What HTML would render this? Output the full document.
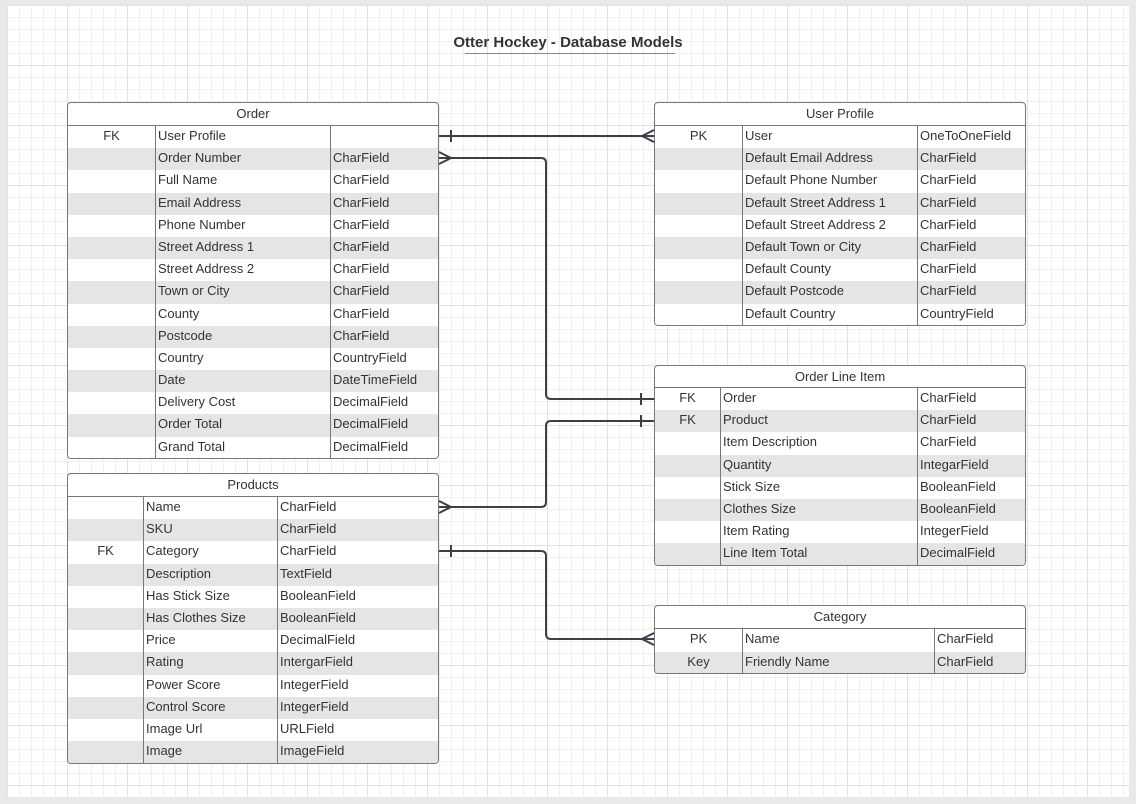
<!DOCTYPE html>
<html><head><meta charset="utf-8"><style>
html,body{margin:0;padding:0}
body{width:1136px;height:804px;position:relative;overflow:hidden;background:#e9e9e9;font-family:"Liberation Sans",sans-serif;color:#333;font-size:13px}
#pg{position:absolute;left:7px;top:5px;width:1122px;height:792px;background-color:#fff;
background-image:linear-gradient(#e2e2e2 1px,transparent 1px),linear-gradient(90deg,#e2e2e2 1px,transparent 1px),linear-gradient(#f0f0f0 1px,transparent 1px),linear-gradient(90deg,#f0f0f0 1px,transparent 1px);
background-size:60px 60px,60px 60px,12px 12px,12px 12px;background-position:0 0,0 0,0 0,0 0}
.t{position:absolute;background:#fff;border:1px solid #777;border-radius:4px;overflow:hidden;box-sizing:border-box}
.h{text-align:center;border-bottom:1px solid #777;box-sizing:border-box;line-height:22px}
.r{display:flex;box-sizing:border-box}
.r span{display:block;box-sizing:border-box;padding-left:2px;white-space:nowrap;overflow:hidden}
.r span:first-child{text-align:center;padding:0}
.r span:nth-child(2){border-left:1px solid #777;border-right:1px solid #777}
h1{position:absolute;left:0;width:1136px;top:34px;margin:0;text-align:center;font-size:15px;font-weight:bold;color:#333}
</style></head><body>
<div id="pg"></div>
<h1>Otter Hockey - Database Models</h1>
<div style="position:absolute;left:465px;top:53px;width:210px;height:1px;background:#888"></div>

<div class="t" style="left:67px;top:102px;width:372px;height:357px">
<div class="h" style="height:23px">Order</div>
<div>
<div class="r" style="height:22.2px;line-height:20px;background:#fff"><span style="width:87px">FK</span><span style="width:176px">User Profile</span><span></span></div>
<div class="r" style="height:22.2px;line-height:20px;background:#e5e5e5"><span style="width:87px"></span><span style="width:176px">Order Number</span><span>CharField</span></div>
<div class="r" style="height:22.2px;line-height:20px;background:#fff"><span style="width:87px"></span><span style="width:176px">Full Name</span><span>CharField</span></div>
<div class="r" style="height:22.2px;line-height:20px;background:#e5e5e5"><span style="width:87px"></span><span style="width:176px">Email Address</span><span>CharField</span></div>
<div class="r" style="height:22.2px;line-height:20px;background:#fff"><span style="width:87px"></span><span style="width:176px">Phone Number</span><span>CharField</span></div>
<div class="r" style="height:22.2px;line-height:20px;background:#e5e5e5"><span style="width:87px"></span><span style="width:176px">Street Address 1</span><span>CharField</span></div>
<div class="r" style="height:22.2px;line-height:20px;background:#fff"><span style="width:87px"></span><span style="width:176px">Street Address 2</span><span>CharField</span></div>
<div class="r" style="height:22.2px;line-height:20px;background:#e5e5e5"><span style="width:87px"></span><span style="width:176px">Town or City</span><span>CharField</span></div>
<div class="r" style="height:22.2px;line-height:20px;background:#fff"><span style="width:87px"></span><span style="width:176px">County</span><span>CharField</span></div>
<div class="r" style="height:22.2px;line-height:20px;background:#e5e5e5"><span style="width:87px"></span><span style="width:176px">Postcode</span><span>CharField</span></div>
<div class="r" style="height:22.2px;line-height:20px;background:#fff"><span style="width:87px"></span><span style="width:176px">Country</span><span>CountryField</span></div>
<div class="r" style="height:22.2px;line-height:20px;background:#e5e5e5"><span style="width:87px"></span><span style="width:176px">Date</span><span>DateTimeField</span></div>
<div class="r" style="height:22.2px;line-height:20px;background:#fff"><span style="width:87px"></span><span style="width:176px">Delivery Cost</span><span>DecimalField</span></div>
<div class="r" style="height:22.2px;line-height:20px;background:#e5e5e5"><span style="width:87px"></span><span style="width:176px">Order Total</span><span>DecimalField</span></div>
<div class="r" style="height:22.2px;line-height:20px;background:#fff"><span style="width:87px"></span><span style="width:176px">Grand Total</span><span>DecimalField</span></div>
</div></div>

<div class="t" style="left:67px;top:473px;width:372px;height:291px">
<div class="h" style="height:23px">Products</div>
<div>
<div class="r" style="height:22.2px;line-height:20px;background:#fff"><span style="width:75px"></span><span style="width:135px">Name</span><span>CharField</span></div>
<div class="r" style="height:22.2px;line-height:20px;background:#e5e5e5"><span style="width:75px"></span><span style="width:135px">SKU</span><span>CharField</span></div>
<div class="r" style="height:22.2px;line-height:20px;background:#fff"><span style="width:75px">FK</span><span style="width:135px">Category</span><span>CharField</span></div>
<div class="r" style="height:22.2px;line-height:20px;background:#e5e5e5"><span style="width:75px"></span><span style="width:135px">Description</span><span>TextField</span></div>
<div class="r" style="height:22.2px;line-height:20px;background:#fff"><span style="width:75px"></span><span style="width:135px">Has Stick Size</span><span>BooleanField</span></div>
<div class="r" style="height:22.2px;line-height:20px;background:#e5e5e5"><span style="width:75px"></span><span style="width:135px">Has Clothes Size</span><span>BooleanField</span></div>
<div class="r" style="height:22.2px;line-height:20px;background:#fff"><span style="width:75px"></span><span style="width:135px">Price</span><span>DecimalField</span></div>
<div class="r" style="height:22.2px;line-height:20px;background:#e5e5e5"><span style="width:75px"></span><span style="width:135px">Rating</span><span>IntergarField</span></div>
<div class="r" style="height:22.2px;line-height:20px;background:#fff"><span style="width:75px"></span><span style="width:135px">Power Score</span><span>IntegerField</span></div>
<div class="r" style="height:22.2px;line-height:20px;background:#e5e5e5"><span style="width:75px"></span><span style="width:135px">Control Score</span><span>IntegerField</span></div>
<div class="r" style="height:22.2px;line-height:20px;background:#fff"><span style="width:75px"></span><span style="width:135px">Image Url</span><span>URLField</span></div>
<div class="r" style="height:22.2px;line-height:20px;background:#e5e5e5"><span style="width:75px"></span><span style="width:135px">Image</span><span>ImageField</span></div>
</div></div>

<div class="t" style="left:654px;top:102px;width:372px;height:224px">
<div class="h" style="height:23px">User Profile</div>
<div>
<div class="r" style="height:22.2px;line-height:20px;background:#fff"><span style="width:87px">PK</span><span style="width:176px">User</span><span>OneToOneField</span></div>
<div class="r" style="height:22.2px;line-height:20px;background:#e5e5e5"><span style="width:87px"></span><span style="width:176px">Default Email Address</span><span>CharField</span></div>
<div class="r" style="height:22.2px;line-height:20px;background:#fff"><span style="width:87px"></span><span style="width:176px">Default Phone Number</span><span>CharField</span></div>
<div class="r" style="height:22.2px;line-height:20px;background:#e5e5e5"><span style="width:87px"></span><span style="width:176px">Default Street Address 1</span><span>CharField</span></div>
<div class="r" style="height:22.2px;line-height:20px;background:#fff"><span style="width:87px"></span><span style="width:176px">Default Street Address 2</span><span>CharField</span></div>
<div class="r" style="height:22.2px;line-height:20px;background:#e5e5e5"><span style="width:87px"></span><span style="width:176px">Default Town or City</span><span>CharField</span></div>
<div class="r" style="height:22.2px;line-height:20px;background:#fff"><span style="width:87px"></span><span style="width:176px">Default County</span><span>CharField</span></div>
<div class="r" style="height:22.2px;line-height:20px;background:#e5e5e5"><span style="width:87px"></span><span style="width:176px">Default Postcode</span><span>CharField</span></div>
<div class="r" style="height:22.2px;line-height:20px;background:#fff"><span style="width:87px"></span><span style="width:176px">Default Country</span><span>CountryField</span></div>
</div></div>

<div class="t" style="left:654px;top:365px;width:372px;height:201px">
<div class="h" style="height:22px">Order Line Item</div>
<div>
<div class="r" style="height:22.2px;line-height:20px;background:#fff"><span style="width:65px">FK</span><span style="width:198px">Order</span><span>CharField</span></div>
<div class="r" style="height:22.2px;line-height:20px;background:#e5e5e5"><span style="width:65px">FK</span><span style="width:198px">Product</span><span>CharField</span></div>
<div class="r" style="height:22.2px;line-height:20px;background:#fff"><span style="width:65px"></span><span style="width:198px">Item Description</span><span>CharField</span></div>
<div class="r" style="height:22.2px;line-height:20px;background:#e5e5e5"><span style="width:65px"></span><span style="width:198px">Quantity</span><span>IntegarField</span></div>
<div class="r" style="height:22.2px;line-height:20px;background:#fff"><span style="width:65px"></span><span style="width:198px">Stick Size</span><span>BooleanField</span></div>
<div class="r" style="height:22.2px;line-height:20px;background:#e5e5e5"><span style="width:65px"></span><span style="width:198px">Clothes Size</span><span>BooleanField</span></div>
<div class="r" style="height:22.2px;line-height:20px;background:#fff"><span style="width:65px"></span><span style="width:198px">Item Rating</span><span>IntegerField</span></div>
<div class="r" style="height:22.2px;line-height:20px;background:#e5e5e5"><span style="width:65px"></span><span style="width:198px">Line Item Total</span><span>DecimalField</span></div>
</div></div>

<div class="t" style="left:654px;top:605px;width:372px;height:69px">
<div class="h" style="height:23px">Category</div>
<div>
<div class="r" style="height:22.5px;line-height:20px;background:#fff"><span style="width:87px">PK</span><span style="width:193px">Name</span><span>CharField</span></div>
<div class="r" style="height:22.5px;line-height:20px;background:#e5e5e5"><span style="width:87px">Key</span><span style="width:193px">Friendly Name</span><span>CharField</span></div>
</div></div>

<svg style="position:absolute;left:0;top:0" width="1136" height="804" fill="none" stroke="#3a3f4a" stroke-width="2">
<path d="M439 136H654M451 130v12M642 136l12-6M642 136l12 6"/>
<path d="M439 158H541q5 0 5 5V394q0 5 5 5H654M641 393v12M439 152l12 6-12 6"/>
<path d="M439 507H541q5 0 5-5V426q0-5 5-5H654M641 415v12M439 501l12 6-12 6"/>
<path d="M439 551H541q5 0 5 5V634q0 5 5 5H654M451 545v12M654 633l-12 6 12 6"/>
</svg>
</body></html>
